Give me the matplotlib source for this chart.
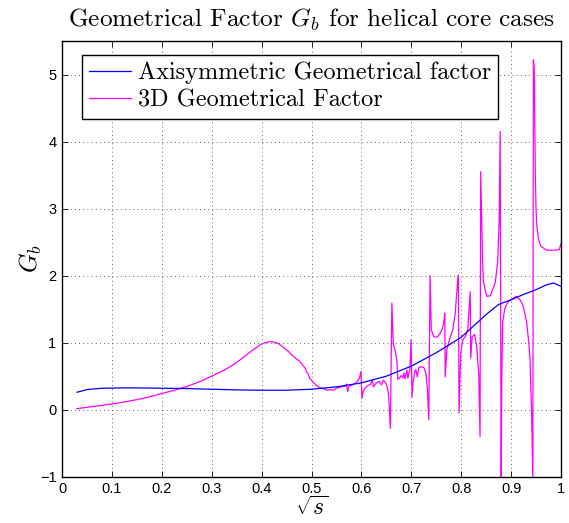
import matplotlib
matplotlib.use("Agg")
import matplotlib.pyplot as plt

plt.rcParams["mathtext.fontset"] = "cm"
plt.rcParams["axes.unicode_minus"] = True

# Axisymmetric geometrical factor
axi_s = [0.03, 0.05, 0.08, 0.12, 0.15, 0.2, 0.25, 0.3, 0.35, 0.4, 0.45, 0.5,
         0.55, 0.6, 0.65, 0.7, 0.75, 0.8, 0.85, 0.875, 0.9, 0.925, 0.95,
         0.97, 0.985, 1.0]
axi_g = [0.26, 0.30, 0.32, 0.325, 0.325, 0.32, 0.315, 0.305, 0.295, 0.29,
         0.29, 0.305, 0.34, 0.40, 0.50, 0.65, 0.85, 1.08, 1.42, 1.57, 1.64,
         1.72, 1.79, 1.86, 1.89, 1.84]

# 3D geometrical factor
d3_s = [0.03, 0.05, 0.075, 0.1, 0.125, 0.15, 0.175, 0.2, 0.225, 0.25, 0.275,
        0.3, 0.325, 0.343, 0.36, 0.377, 0.39, 0.4, 0.41, 0.418, 0.425, 0.435,
        0.445, 0.455, 0.463, 0.468, 0.47, 0.473, 0.476, 0.478, 0.48, 0.483,
        0.486, 0.488, 0.49, 0.493, 0.497, 0.5, 0.503, 0.507, 0.51, 0.514,
        0.52, 0.527, 0.533, 0.538, 0.542, 0.548, 0.553, 0.56, 0.567, 0.570,
        0.5725, 0.575, 0.582, 0.59, 0.596, 0.599, 0.601, 0.604, 0.611, 0.618,
        0.622, 0.624, 0.63, 0.636, 0.64, 0.644, 0.649, 0.653, 0.655, 0.658,
        0.661, 0.664, 0.668, 0.671, 0.673, 0.677, 0.68, 0.683, 0.685, 0.687,
        0.691, 0.693, 0.697, 0.6995, 0.7014, 0.704, 0.707, 0.709, 0.712,
        0.715, 0.72, 0.725, 0.729, 0.732, 0.735, 0.7375, 0.74, 0.745, 0.751,
        0.756, 0.762, 0.765, 0.767, 0.768, 0.771, 0.777, 0.783, 0.788, 0.792,
        0.7943, 0.7956, 0.799, 0.803, 0.808, 0.813, 0.816, 0.818, 0.819,
        0.822, 0.827, 0.831, 0.835, 0.8377, 0.839, 0.8424, 0.8443, 0.851,
        0.858, 0.868, 0.873, 0.876, 0.878, 0.880, 0.8815, 0.883, 0.887,
        0.893, 0.9, 0.91, 0.918, 0.924, 0.931, 0.936, 0.938, 0.941, 0.9435,
        0.9446, 0.9462, 0.9476, 0.9486, 0.950, 0.952, 0.9545, 0.958, 0.961,
        0.971, 0.991, 0.9966, 1.0]
d3_g = [0.015, 0.035, 0.06, 0.085, 0.115, 0.15, 0.19, 0.24, 0.29, 0.345,
        0.415, 0.50, 0.59, 0.67, 0.76, 0.86, 0.93, 0.98, 1.005, 1.015, 1.01,
        0.98, 0.92, 0.86, 0.80, 0.77, 0.755, 0.74, 0.725, 0.70, 0.69, 0.66,
        0.63, 0.61, 0.56, 0.54, 0.46, 0.44, 0.41, 0.38, 0.36, 0.34, 0.32,
        0.305, 0.29, 0.30, 0.29, 0.31, 0.33, 0.34, 0.35, 0.38, 0.27, 0.35,
        0.37, 0.41, 0.47, 0.57, 0.17, 0.29, 0.35, 0.38, 0.44, 0.34, 0.40,
        0.42, 0.37, 0.44, 0.40, 0.30, 0.145, -0.28, 1.59, 0.97, 0.87, 0.74,
        0.45, 0.48, 0.51, 0.47, 0.55, 0.46, 0.59, 0.47, 0.60, 1.04, 0.19,
        0.44, 0.57, 0.60, 0.49, 0.63, 0.64, 0.63, 0.55, 0.33, -0.15, 2.0,
        1.19, 1.09, 1.08, 1.12, 1.2, 1.3, 1.44, 0.49, 0.89, 1.06, 1.19, 1.44,
        1.84, 2.01, -0.05, 0.84, 1.04, 1.09, 1.19, 1.54, 1.76, 0.77, 1.09,
        1.12, 0.94, 0.54, -0.40, 3.55, 2.33, 1.92, 1.69, 1.70, 1.89, 2.2,
        2.83, 4.15, -1.05, 0.6, 1.3, 1.5, 1.60, 1.64, 1.69, 1.64, 1.55, 1.31,
        0.95, 0.72, -0.03, -1.05, 5.22, 5.1, 4.2, 3.46, 2.96, 2.71, 2.56,
        2.47, 2.43, 2.38, 2.38, 2.39, 2.48]

x_ticks = [0, 0.1, 0.2, 0.3, 0.4, 0.5, 0.6, 0.7, 0.8, 0.9, 1]
x_tick_labels = ["0", "0.1", "0.2", "0.3", "0.4", "0.5", "0.6", "0.7", "0.8",
                 "0.9", "1"]
y_ticks = [-1, 0, 1, 2, 3, 4, 5]

fig = plt.figure(figsize=(5.69, 5.23), dpi=100)
ax = fig.add_axes([0.109, 0.0885, 0.877, 0.8331])

ax.plot(axi_s, axi_g, color="#0000ff", lw=0.9,
        label="Axisymmetric Geometrical factor", zorder=3)
ax.plot(d3_s, d3_g, color="#ff00ff", lw=0.9,
        label="3D Geometrical Factor", zorder=2)

ax.set_xlim(0, 1)
ax.set_ylim(-1, 5.5)
ax.set_xticks(x_ticks)
ax.set_xticklabels(x_tick_labels)
ax.set_yticks(y_ticks)

for lab in ax.get_xticklabels() + ax.get_yticklabels():
    lab.set_fontfamily("Liberation Sans")
    lab.set_fontsize(10.5)

ax.tick_params(direction="in", length=4, width=0.6, top=True, right=True,
               pad=4)
for sp in ax.spines.values():
    sp.set_linewidth(1.0)

ax.grid(True, color="#333333", linestyle=(0, (1, 4)), linewidth=0.6)

ax.set_title(r"Geometrical Factor $G_b$ for helical core cases",
             fontfamily="cmr10", fontsize=18.2, pad=10)
ax.set_xlabel(r"$\sqrt{s}$", fontsize=17, labelpad=0)
ax.set_ylabel(r"$G_b$", fontsize=18, labelpad=-3)

leg = ax.legend(loc="upper left", bbox_to_anchor=(0.04, 0.968),
                borderaxespad=0, fancybox=False, framealpha=1,
                edgecolor="black", handlelength=1.75, handletextpad=0.28,
                borderpad=0.28, labelspacing=0.22,
                prop={"family": "cmr10", "size": 17.5})
leg.get_frame().set_linewidth(1.0)

fig.savefig("out.png", dpi=100)
